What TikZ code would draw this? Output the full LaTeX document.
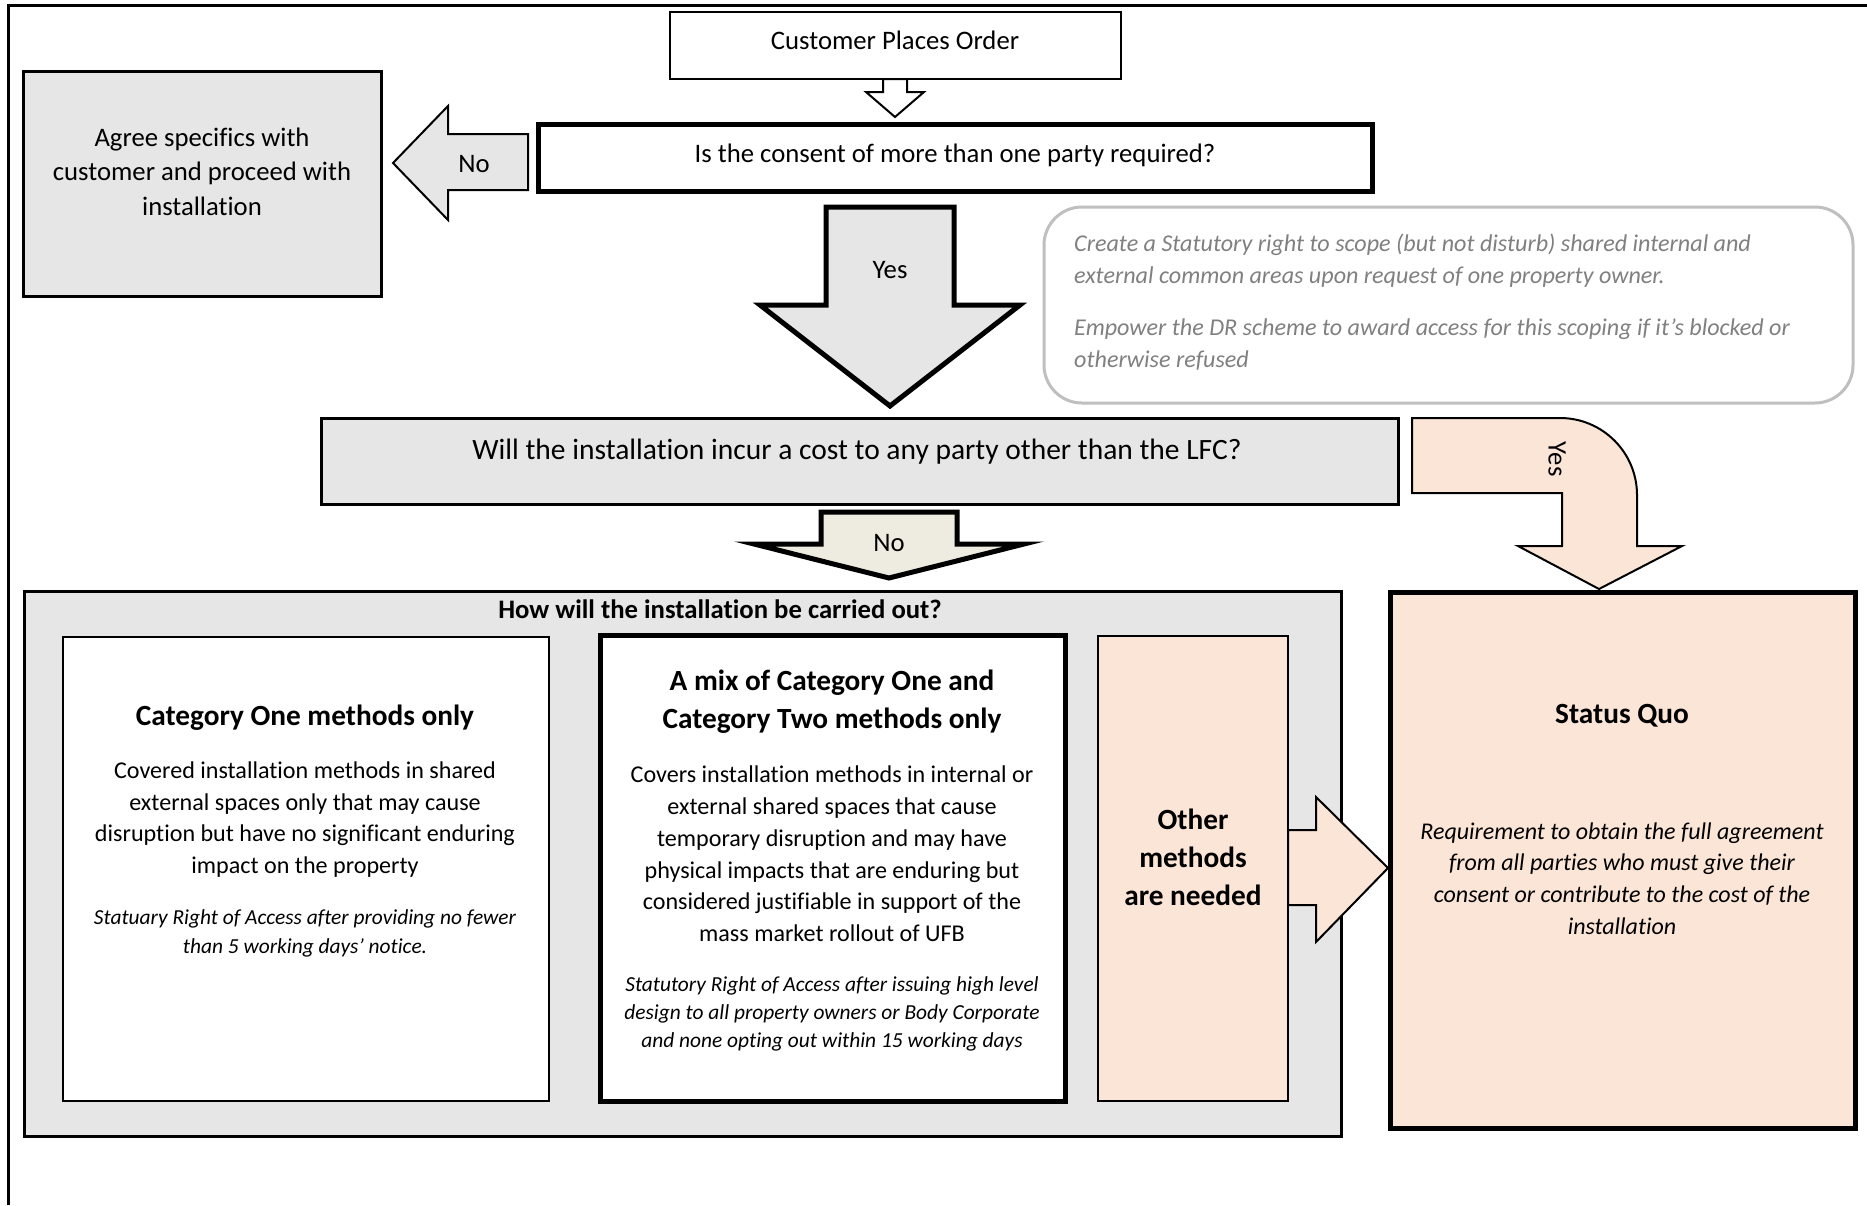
\documentclass[tikz,border=0pt]{standalone}
\usepackage{fontspec}
\setmainfont[Ligatures={NoCommon}]{Carlito}
\definecolor{boxgray}{HTML}{E6E6E6}
\definecolor{peach}{HTML}{FBE5D6}
\definecolor{beige}{HTML}{EEECE1}
\definecolor{notegray}{HTML}{808080}
\definecolor{noteborder}{HTML}{BFBFBF}
\tikzset{
  thinbox/.style={draw=black, line width=2pt},
  thickbox/.style={draw=black, line width=5pt},
  midbox/.style={draw=black, line width=3pt},
  txt/.style={inner sep=0pt, align=center, font=\fontsize{26.7}{34.5}\selectfont},
  bodytxt/.style={inner sep=0pt, align=center, font=\fontsize{24.1}{31.8}\selectfont},
  ittxt/.style={inner sep=0pt, align=center, font=\fontsize{21.4}{28.3}\selectfont\itshape},
  titletxt/.style={inner sep=0pt, align=center, font=\fontsize{29.3}{38}\selectfont\bfseries},
  notetxt/.style={inner sep=0pt, align=left, anchor=west, text=notegray, font=\fontsize{24.1}{32}\selectfont\itshape},
}
\begin{document}
\begin{tikzpicture}[x=1pt,y=-1pt]
\useasboundingbox (0,0) rectangle (1867,1205);
% outer frame
\draw[line width=3pt] (8,1205) -- (8,5) -- (1867,5);

% boxes
\node[thinbox, fill=white, minimum width=451pt, minimum height=67pt, inner sep=0pt] (order) at (895.5,45.5) {};
\node[thickbox, fill=white, minimum width=834pt, minimum height=67pt, inner sep=0pt] (consent) at (955,157.5) {};
\node[midbox, fill=boxgray, minimum width=358pt, minimum height=225pt, inner sep=0pt] (agree) at (202,183.5) {};
\node[draw=noteborder, line width=3pt, rounded corners=38pt, fill=white, minimum width=809pt, minimum height=196pt, inner sep=0pt] (note) at (1448.5,305) {};
\node[midbox, fill=boxgray, minimum width=1077pt, minimum height=86pt, inner sep=0pt] (cost) at (859.5,461) {};
\node[midbox, fill=boxgray, minimum width=1317pt, minimum height=545pt, inner sep=0pt] (how) at (682.5,863.5) {};
\node[thinbox, fill=white, minimum width=486pt, minimum height=464pt, inner sep=0pt] (catone) at (306,869) {};
\node[thickbox, fill=white, minimum width=465pt, minimum height=466pt, inner sep=0pt] (mix) at (832.5,868) {};
\node[thinbox, fill=peach, minimum width=190pt, minimum height=465pt, inner sep=0pt] (other) at (1193,868.5) {};
\node[thickbox, fill=peach, minimum width=465pt, minimum height=536pt, inner sep=0pt] (sq) at (1622.5,860) {};

% block arrows
\draw[thinbox, fill=white] (883,79) -- (883,92) -- (866,92) -- (895,117) -- (924,92) -- (907,92) -- (907,79) -- cycle;
\draw[thinbox, fill=boxgray] (528,134) -- (448,134) -- (448,106) -- (393,163) -- (448,220) -- (448,190) -- (528,190) -- cycle;
\draw[thickbox, fill=boxgray] (826,207) -- (954,207) -- (954,305) -- (1020,305) -- (890,406) -- (760,305) -- (826,305) -- cycle;
\draw[thickbox, fill=beige] (821,512) -- (957,512) -- (957,544) -- (1024,544) -- (889,578) -- (754,544) -- (821,544) -- cycle;
\draw[thinbox, fill=peach] (1288,830) -- (1316,830) -- (1316,797) -- (1388,868) -- (1316,942) -- (1316,905) -- (1288,905) -- cycle;
\draw[thinbox, fill=peach] (1412,418) -- (1560,418) .. controls (1602.5,418) and (1637,452.5) .. (1637,495) -- (1637,546) -- (1682,546) -- (1599,589) -- (1518,546) -- (1562,546) -- (1562,493) -- (1412,493) -- cycle;

% texts
\node[txt] (torder) at (895,40) {Customer Places Order};
\node[txt] (tconsent) at (955,155) {Is the consent of more than one party required?};
\node[txt] (tno1) at (474,164) {No};
\node[txt] (tagree) at (202,171.5) {Agree specifics with\\customer and proceed with\\installation};
\node[txt] (tyes1) at (890,270) {Yes};
\node[notetxt] (tnote1) at (1074,260.5) {Create a Statutory right to scope (but not disturb) shared internal and\\external common areas upon request of one property owner.};
\node[notetxt] (tnote2) at (1074,344.5) {Empower the DR scheme to award access for this scoping if it’s blocked or\\otherwise refused};
\node[txt, font=\fontsize{29.5}{36}\selectfont] (tcost) at (857,452) {Will the installation incur a cost to any party other than the LFC?};
\node[txt] (tno2) at (889,543) {No};
\node[txt, rotate=-90] (tyes2) at (1557,459) {Yes};
\node[txt, font=\fontsize{26.7}{32}\selectfont\bfseries] (thow) at (720,609) {How will the installation be carried out?};

\node[titletxt] (tcatone) at (305,717.5) {Category One methods only};
\node[bodytxt] (bcatone) at (305,819.5) {Covered installation methods in shared\\external spaces only that may cause\\disruption but have no significant enduring\\impact on the property};
\node[ittxt] (icatone) at (305,933.5) {Statuary Right of Access after providing no fewer\\than 5 working days’ notice.};

\node[titletxt] (tmix) at (832,701.5) {A mix of Category One and\\Category Two methods only};
\node[bodytxt] (bmix) at (832,854) {Covers installation methods in internal or\\external shared spaces that cause\\temporary disruption and may have\\physical impacts that are enduring but\\considered justifiable in support of the\\mass market rollout of UFB};
\node[ittxt] (imix) at (832,1014) {Statutory Right of Access after issuing high level\\design to all property owners or Body Corporate\\and none opting out within 15 working days};

\node[titletxt] (tother) at (1193,857.5) {Other\\methods\\are needed};

\node[titletxt] (tsq) at (1622,716) {Status Quo};
\node[bodytxt, font=\fontsize{24}{31.7}\selectfont\itshape] (isq) at (1622,878.5) {Requirement to obtain the full agreement\\from all parties who must give their\\consent or contribute to the cost of the\\installation};
\end{tikzpicture}
\end{document}
